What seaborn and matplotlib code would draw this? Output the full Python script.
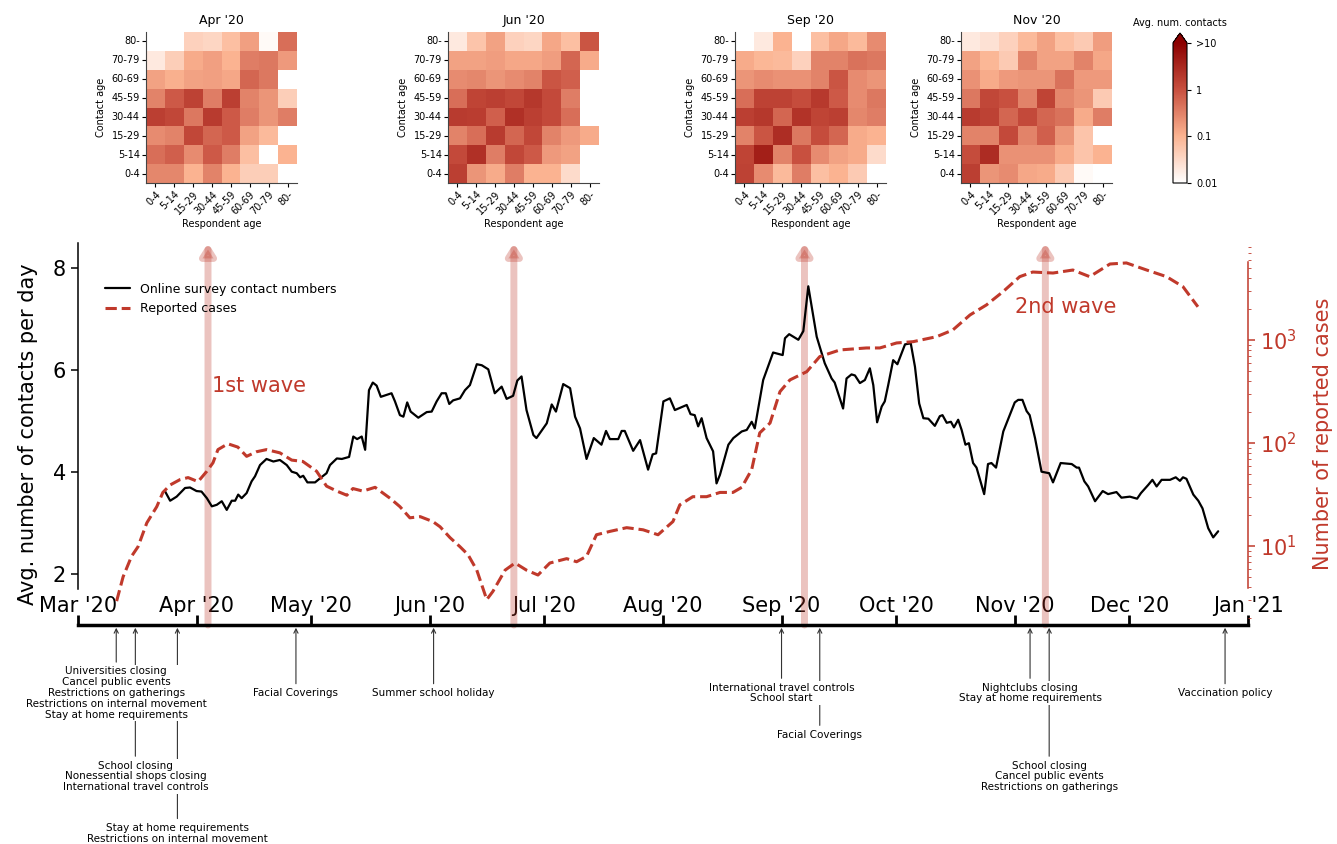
import numpy as np
import pandas as pd
import seaborn as sns
import matplotlib.pyplot as plt
import matplotlib.dates as mdates
from matplotlib.colors import LogNorm
from matplotlib.cm import ScalarMappable

sns.set_style("ticks", {"axes.edgecolor": "black", "text.color": "black",
                        "xtick.color": "black", "ytick.color": "black",
                        "axes.labelcolor": "black"})
plt.rcParams['font.family'] = ['DejaVu Sans']

red = '#c0392b'
start = pd.Timestamp('2020-03-01')

# ---- online survey contacts (days after 1 Mar 2020, avg contacts)
contact_day = [22.8, 24.1, 25.8, 28.0, 29.3, 31.0, 32.3, 33.7, 35.0, 36.3, 37.6, 38.9, 40.2, 41.1,
               41.9, 42.8, 44.1, 45.4, 46.3, 47.6, 49.3, 51.1, 52.8, 54.6, 55.9, 57.2, 58.1, 58.9,
               60.0, 62.0, 63.3, 65.0, 65.9, 67.7, 69.0, 70.9, 72.0, 73.0, 74.2, 75.1, 76.1, 77.1,
               78.1, 79.2, 82.0, 82.9, 84.2, 85.1, 86.1, 87.0, 89.0, 91.2, 92.5, 93.8, 95.1, 96.2,
               97.1, 98.1, 99.9, 101.2, 102.5, 104.3, 105.6, 107.3, 109.0, 110.8, 112.1, 113.8,
               114.9, 116.0, 117.3, 119.1, 119.9, 122.6, 123.9, 125.0, 126.9, 128.7, 130.0, 131.3,
               133.0, 134.9, 136.9, 138.1, 139.1, 141.3, 142.2, 143.0, 145.2, 147.0, 149.1, 150.3,
               151.2, 153.1, 154.8, 156.1, 159.2, 160.2, 161.3, 162.2, 163.1, 164.4, 166.1, 167.0,
               167.9, 170.1, 171.4, 173.6, 174.9, 176.2, 177.0, 179.2, 181.8, 184.3, 184.9, 186.0,
               188.4, 189.7, 191.0, 193.2, 195.3, 197.1, 197.9, 200.1, 201.0, 202.3, 203.2, 204.5,
               205.8, 207.1, 208.0, 209.0, 210.2, 211.0, 211.9, 213.2, 214.3, 216.3, 217.8, 218.9,
               220.0, 221.1, 222.4, 224.1, 225.4, 226.1, 227.2, 228.3, 229.1, 230.2, 231.1, 232.1,
               233.0, 234.1, 235.0, 237.0, 238.0, 238.9, 240.1, 242.0, 243.7, 245.0, 245.9, 247.0,
               248.1, 248.9, 250.3, 252.0, 254.0, 255.0, 257.0, 259.9, 261.2, 261.8, 263.2, 264.2,
               266.0, 268.0, 269.4, 271.6, 272.9, 275.1, 277.0, 278.0, 279.9, 281.0, 282.1, 283.4,
               285.6, 287.1, 288.2, 289.0, 289.9, 291.7, 293.0, 294.1, 295.6, 296.9, 298.2]
contact_val = [3.62, 3.44, 3.52, 3.69, 3.70, 3.63, 3.62, 3.49, 3.33, 3.36, 3.43, 3.26, 3.44, 3.44,
               3.56, 3.49, 3.59, 3.82, 3.92, 4.14, 4.26, 4.21, 4.24, 4.14, 4.01, 3.98, 3.90, 3.93,
               3.80, 3.80, 3.88, 3.98, 4.14, 4.27, 4.26, 4.30, 4.70, 4.65, 4.70, 4.44, 5.61, 5.76,
               5.70, 5.48, 5.55, 5.39, 5.12, 5.09, 5.37, 5.19, 5.07, 5.18, 5.19, 5.39, 5.55, 5.55,
               5.34, 5.41, 5.45, 5.61, 5.71, 6.12, 6.10, 6.02, 5.55, 5.68, 5.44, 5.50,
               5.80, 5.88, 5.22, 4.73, 4.67, 4.96, 5.33, 5.19, 5.73, 5.65, 5.09, 4.86,
               4.26, 4.67, 4.54, 4.81, 4.65, 4.65, 4.81, 4.81, 4.42, 4.63, 4.05, 4.35,
               4.37, 5.39, 5.45, 5.22, 5.32, 5.14, 5.12, 4.90, 5.06, 4.67, 4.41, 3.78,
               3.95, 4.54, 4.67, 4.80, 4.83, 4.99, 4.86, 5.81, 6.35, 6.30, 6.63, 6.71,
               6.60, 6.77, 7.65, 6.66, 6.14, 5.84, 5.76, 5.25, 5.84, 5.92, 5.90, 5.75,
               5.81, 6.04, 5.71, 4.98, 5.29, 5.39, 5.71, 6.20, 6.12, 6.51, 6.53, 6.07,
               5.35, 5.06, 5.05, 4.91, 5.10, 5.12, 4.97, 4.99, 4.88, 5.03, 4.83, 4.54,
               4.57, 4.18, 4.09, 3.57, 4.16, 4.18, 4.09, 4.80, 5.12, 5.37, 5.42, 5.42,
               5.20, 5.12, 4.67, 4.01, 3.98, 3.80, 4.18, 4.16, 4.09, 4.09, 3.82, 3.72,
               3.43, 3.63, 3.57, 3.61, 3.50, 3.52, 3.48, 3.59, 3.75, 3.85, 3.72, 3.85,
               3.85, 3.90, 3.83, 3.90, 3.87, 3.56, 3.44, 3.29, 2.90, 2.72, 2.84]

# ---- reported cases (days after 1 Mar 2020, cases)
case_day = [10.1, 11.8, 14.0, 15.7, 18.0, 20.6, 22.2, 24.1, 26.7, 28.8, 31.4, 33.7, 35.3, 36.6,
            39.2, 41.8, 44.1, 46.7, 49.3, 52.8, 55.9, 58.8, 62.4, 65.0, 67.7, 70.3, 71.9, 74.5,
            77.7, 81.6, 84.2, 86.8, 89.5, 92.8, 94.7, 97.3, 99.9, 102.0, 104.3, 106.9, 108.5,
            111.7, 114.3, 117.3, 120.3, 123.4, 127.8, 130.4, 133.0, 135.6, 139.1, 143.5, 147.8,
            151.7, 155.6, 157.4, 160.8, 164.4, 167.9, 171.3, 173.6, 176.2, 178.3, 181.0, 183.6,
            186.2, 190.6, 194.0, 199.3, 206.2, 209.7, 214.1, 218.4, 224.6, 228.8, 233.3, 237.6,
            241.9, 246.3, 249.7, 255.0, 260.2, 264.6, 269.9, 274.2, 279.5, 284.7, 289.0, 292.9]
case_val = [2.9, 5.0, 7.9, 9.8, 16.7, 24, 33, 39, 44, 46, 42, 53, 64, 86,
            98, 91, 74, 82, 86, 80, 68, 66, 53, 38, 34, 31, 36, 34,
            37, 29, 24, 18.7, 19.2, 17.2, 15.3, 12.0, 9.8, 8.2, 5.8, 3.0, 3.6,
            5.8, 6.8, 5.8, 5.2, 6.8, 7.5, 7.0, 7.9, 12.8, 13.8, 15.0, 14.3,
            12.8, 17.2, 25, 30, 30, 33, 33, 37, 55, 125, 156, 315,
            409, 492, 689, 800, 836, 836, 935, 962, 1077, 1250, 1750, 2190,
            2940, 4120, 4570, 4470, 4780, 4120, 5470, 5600, 4780, 4120, 3290, 2100]

# ---- contact matrices, rows = contact age (80- at top), cols = respondent age
ages = ['0-4', '5-14', '15-29', '30-44', '45-59', '60-69', '70-79', '80-']
months = ["Apr '20", "Jun '20", "Sep '20", "Nov '20"]
nan = np.nan
apr = [[nan, nan, 0.04, 0.035, 0.07, 0.16, 0.012, 0.5],
       [0.02, 0.045, 0.12, 0.16, 0.1, 0.35, 0.4, 0.18],
       [0.15, 0.11, 0.15, 0.16, 0.13, 0.6, 0.4, nan],
       [0.3, 0.8, 1.5, 0.35, 1.6, 0.3, 0.2, 0.045],
       [1.6, 1.3, 0.4, 1.8, 0.8, 0.35, 0.2, 0.35],
       [0.25, 0.3, 1.3, 0.6, 0.8, 0.15, 0.08, nan],
       [0.5, 0.7, 0.25, 0.8, 0.35, 0.07, nan, 0.1],
       [0.28, 0.28, 0.1, 0.3, 0.1, 0.045, 0.045, nan]]
jun = [[0.02, 0.06, 0.15, 0.04, 0.035, 0.13, 0.07, 0.9],
       [0.15, 0.15, 0.17, 0.13, 0.13, 0.17, 0.6, 0.12],
       [0.25, 0.28, 0.2, 0.25, 0.3, 0.9, 0.7, nan],
       [0.5, 1.4, 1.6, 1.3, 2.0, 1.2, 0.35, nan],
       [1.8, 1.7, 0.7, 2.5, 1.6, 1.2, 0.5, nan],
       [0.3, 0.5, 1.8, 0.6, 1.3, 0.3, 0.18, 0.12],
       [1.2, 2.5, 0.35, 1.3, 0.8, 0.18, 0.15, nan],
       [1.6, 0.2, 0.12, 0.35, 0.1, 0.1, 0.03, nan]]
sep = [[nan, 0.02, 0.1, 0.008, 0.07, 0.13, 0.08, 0.25],
       [0.12, 0.09, 0.08, 0.04, 0.3, 0.3, 0.45, 0.4],
       [0.2, 0.25, 0.22, 0.22, 0.3, 0.9, 0.25, 0.2],
       [0.5, 1.5, 1.5, 1.1, 1.9, 0.8, 0.25, 0.4],
       [1.6, 2.0, 0.6, 2.3, 1.4, 1.6, 0.28, 0.35],
       [0.3, 0.9, 2.7, 0.4, 1.1, 0.6, 0.12, 0.1],
       [1.4, 4.0, 0.3, 1.0, 0.25, 0.15, 0.12, 0.03],
       [1.5, 0.25, 0.08, 0.35, 0.07, 0.1, 0.05, nan]]
nov = [[0.02, 0.025, 0.04, 0.08, 0.15, 0.07, 0.05, 0.17],
       [0.15, 0.09, 0.05, 0.3, 0.15, 0.15, 0.3, 0.13],
       [0.22, 0.12, 0.18, 0.2, 0.2, 0.45, 0.18, 0.18],
       [0.4, 1.3, 1.0, 0.3, 1.4, 0.28, 0.2, 0.05],
       [1.8, 1.5, 0.6, 1.2, 0.6, 0.45, 0.12, 0.35],
       [0.3, 0.3, 1.2, 0.3, 0.7, 0.2, 0.06, nan],
       [1.1, 2.8, 0.22, 0.22, 0.22, 0.12, 0.06, 0.1],
       [1.6, 0.2, 0.25, 0.13, 0.12, 0.05, 0.012, nan]]
matrices = [apr, jun, sep, nov]
matrix_dates = ['2020-04-04', '2020-06-23', '2020-09-07', '2020-11-09']

# ---- interventions timeline
event_dates = ['2020-03-11', '2020-03-16', '2020-03-27', '2020-04-27', '2020-06-02',
               '2020-09-01', '2020-09-11', '2020-11-05', '2020-11-10', '2020-12-26']
event_text = ["Universities closing\nCancel public events\nRestrictions on gatherings\n"
              "Restrictions on internal movement\nStay at home requirements",
              "School closing\nNonessential shops closing\nInternational travel controls",
              "Stay at home requirements\nRestrictions on internal movement",
              "Facial Coverings",
              "Summer school holiday",
              "International travel controls\nSchool start",
              "Facial Coverings",
              "Nightclubs closing\nStay at home requirements",
              "School closing\nCancel public events\nRestrictions on gatherings",
              "Vaccination policy"]
event_level = [49, 109, 150, 49, 49, 49, 79, 49, 109, 49]   # points below the axis

contact_dates = start + pd.to_timedelta(contact_day, unit='D')
case_dates = start + pd.to_timedelta(case_day, unit='D')

fig = plt.figure(figsize=(13.37, 8.44), dpi=100)
W, H = 1337, 844

# ---------------- main panel
ax = fig.add_axes([78 / W, 219 / H, 1170 / W, 382 / H])
sns.lineplot(x=contact_dates, y=contact_val, ax=ax, color='black', lw=1.6, legend=False)
ax2 = ax.twinx()
sns.lineplot(x=case_dates, y=case_val, ax=ax2, color=red, lw=2.2, linestyle='--', legend=False)

ax.set_xlim(pd.Timestamp('2020-03-01'), pd.Timestamp('2021-01-01'))
ax.set_ylim(1.0, 8.5)
ax.set_yticks([2, 4, 6, 8])
ax.xaxis.set_major_locator(mdates.MonthLocator())
ax.xaxis.set_major_formatter(mdates.DateFormatter("%b '%y"))
ax.tick_params(axis='x', direction='in', length=7, width=2, labelsize=15, pad=-21)
ax.tick_params(axis='y', length=5, width=1.1, labelsize=15)
ax.set_xlabel('')
ax2.set_xlabel('')
ax.set_ylabel('Avg. number of contacts per day', fontsize=15, labelpad=11)
ax.spines['top'].set_visible(False)
ax.spines['right'].set_visible(False)
ax.spines['bottom'].set_linewidth(2.5)
ax.spines['left'].set_linewidth(1.1)
ax.spines['left'].set_bounds(1.7, 8.5)

ax2.set_yscale('log')
ax2.set_ylim(1.7, 8750)
for s in ['top', 'left', 'bottom']:
    ax2.spines[s].set_visible(False)
ax2.spines['right'].set_color(red)
ax2.spines['right'].set_linewidth(1.1)
ax2.spines['right'].set_bounds(3.9, 5700)
ax2.tick_params(axis='y', which='both', colors=red, labelsize=15)
ax2.tick_params(axis='y', which='major', length=5, width=1.1)
ax2.set_ylabel('Number of reported cases', fontsize=15, color=red, labelpad=12)

ax.legend([ax.lines[0], ax2.lines[0]], ['Online survey contact numbers', 'Reported cases'],
          loc='upper left', bbox_to_anchor=(0.019, 0.909), borderaxespad=0,
          frameon=False, fontsize=9)

ax.text(pd.Timestamp('2020-04-05'), 5.69, '1st wave', color=red, fontsize=15, va='center')
ax.text(pd.Timestamp('2020-11-01'), 7.25, '2nd wave', color=red, fontsize=15, va='center')

# arrows linking the matrices to the timeline
for d in matrix_dates:
    x = mdates.date2num(pd.Timestamp(d))
    ax.annotate('', xy=(x, 1.0), xycoords=('data', 'axes fraction'),
                xytext=(x, 0.0), textcoords=('data', 'axes fraction'),
                arrowprops=dict(arrowstyle='-|>,head_length=0.4,head_width=0.25', color=red,
                                alpha=0.3, lw=5, shrinkA=0, shrinkB=0, mutation_scale=16),
                zorder=1, annotation_clip=False)

# interventions, deepest first so the upper boxes hide the long arrows
for i in np.argsort(event_level)[::-1]:
    x = mdates.date2num(pd.Timestamp(event_dates[i]))
    ax.annotate(event_text[i], xy=(x, 0), xycoords=('data', 'axes fraction'),
                xytext=(0, -event_level[i]), textcoords='offset points',
                ha='center', va='center', fontsize=7.5, linespacing=1.1,
                bbox=dict(boxstyle='square,pad=0.15', fc='white', ec='none'),
                arrowprops=dict(arrowstyle='->', color='#333333', lw=0.8, shrinkA=2, shrinkB=2),
                annotation_clip=False)

# ---------------- contact matrices
cmap = sns.blend_palette(['#ffffff', '#fbb391', '#c8503f', '#8b0000'], as_cmap=True)
norm = LogNorm(vmin=0.01, vmax=10)
heat_left = [146, 448, 735, 961]
for mat, title, left in zip(matrices, months, heat_left):
    axh = fig.add_axes([left / W, 661 / H, 151 / W, 151 / H])
    df = pd.DataFrame(mat, index=ages[::-1], columns=ages)
    sns.heatmap(df, ax=axh, cmap=cmap, norm=norm, cbar=False)
    for s in ['left', 'bottom']:
        axh.spines[s].set_visible(True)
        axh.spines[s].set_linewidth(0.8)
        axh.spines[s].set_color('#444444')
    axh.tick_params(length=3, width=0.8, labelsize=7, pad=1.5)
    axh.set_yticklabels(ages[::-1], rotation=0)
    axh.set_xticklabels(ages, rotation=45, ha='right', rotation_mode='anchor')
    axh.set_xlabel('Respondent age', fontsize=7, labelpad=2)
    axh.set_ylabel('Contact age', fontsize=7)
    axh.set_title(title, fontsize=9)

cax = fig.add_axes([1173 / W, 661 / H, 14 / W, 150 / H])
cb = fig.colorbar(ScalarMappable(norm=norm, cmap=cmap), cax=cax, extend='max', extendfrac=0.07)
cb.set_ticks([0.01, 0.1, 1, 10])
cb.set_ticklabels(['0.01', '0.1', '1', '>10'])
cb.ax.minorticks_off()
cb.ax.tick_params(labelsize=7, length=3, width=0.8)
cb.outline.set_linewidth(0.8)
cax.set_title('Avg. num. contacts', fontsize=7, pad=5)

fig.savefig('out.png', dpi=100)
